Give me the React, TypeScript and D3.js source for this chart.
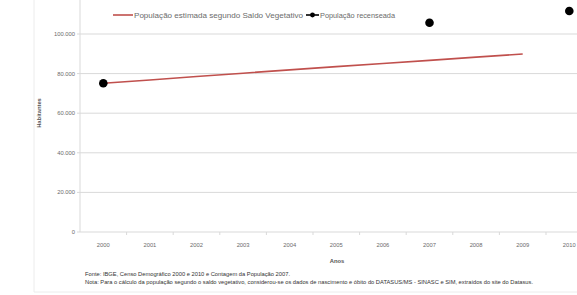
import React from "react";
import * as d3 from "d3";

const years = ["2000", "2001", "2002", "2003", "2004", "2005", "2006", "2007", "2008", "2009", "2010"];
const estimatedYears = ["2000", "2001", "2002", "2003", "2004", "2005", "2006", "2007", "2008", "2009"];
const estimated = [75100, 76800, 78500, 80200, 81900, 83500, 85100, 86700, 88300, 89900];
const censusYears = ["2000", "2007", "2010"];
const census = [75100, 105700, 111600];
const yTicks = [0, 20000, 40000, 60000, 80000, 100000];

const legendLabels = ["População estimada segundo Saldo Vegetativo", "População recenseada"];
const sourceNote = "Fonte: IBGE, Censo Demográfico 2000 e 2010 e Contagem da População 2007.";
const methodNote =
  "Nota: Para o cálculo da população segundo o saldo vegetativo, considerou-se os dados de nascimento e óbito do DATASUS/MS - SINASC e SIM, extraídos do site do Datasus.";

const W = 577;
const H = 295;
const font = "'Liberation Sans', Arial, sans-serif";
const red = "#c0504d";
const grid = "#d9d9d9";
const txt = "#6b6b6b";

const ptBr = d3.formatLocale({ decimal: ",", thousands: ".", grouping: [3], currency: ["R$", ""] });
const fmt = ptBr.format(",.0f");

export default function App() {
  const x = d3.scalePoint<string>().domain(years).range([80, 592.6]).padding(0.5);
  const y = d3.scaleLinear().domain([0, 120000]).range([232, -5.6]);

  const line = d3
    .line<number>()
    .x((_, i) => x(estimatedYears[i]) as number)
    .y((d) => y(d));

  return (
    <svg
      width={W}
      height={H}
      style={{ position: "absolute", left: 0, top: 0, background: "#fff" }}
      fontFamily={font}
    >
      {/* faint chart frame */}
      <line x1={34} x2={34} y1={0} y2={292} stroke="#ececec" />
      <line x1={34} x2={W} y1={292} y2={292} stroke="#ececec" />

      {/* gridlines + y ticks */}
      {yTicks.map((t) => (
        <g key={t}>
          <line x1={77} x2={W} y1={y(t)} y2={y(t)} stroke={grid} strokeWidth={1} />
          <text x={75} y={y(t)} dy="0.35em" textAnchor="end" fontSize={5.8} fill={txt}>
            {fmt(t)}
          </text>
        </g>
      ))}
      <line x1={80} x2={80} y1={0} y2={232} stroke={grid} />

      {/* x ticks */}
      {years.map((yr) => (
        <g key={yr}>
          <line
            x1={(x(yr) as number) + x.step() / 2}
            x2={(x(yr) as number) + x.step() / 2}
            y1={232}
            y2={235}
            stroke={grid}
          />
          <text x={x(yr)} y={247} textAnchor="middle" fontSize={5.8} fill={txt}>
            {yr}
          </text>
        </g>
      ))}

      {/* axis titles */}
      <text
        transform={`translate(41,113) rotate(-90)`}
        textAnchor="middle"
        fontSize={5.8}
        fontWeight="bold"
        fill="#555"
      >
        Habitantes
      </text>
      <text x={337} y={263} textAnchor="middle" fontSize={5.8} fontWeight="bold" fill="#555">
        Anos
      </text>

      {/* estimated series */}
      <path d={line(estimated) ?? ""} fill="none" stroke={red} strokeWidth={1.6} />

      {/* census points */}
      {census.map((v, i) => (
        <circle key={censusYears[i]} cx={x(censusYears[i])} cy={y(v)} r={4.3} fill="#000" />
      ))}

      {/* legend */}
      <line x1={113} x2={133} y1={15} y2={15} stroke={red} strokeWidth={1.6} />
      <text x={134} y={15} dy="0.35em" fontSize={7.2} fill={txt} textLength={169} lengthAdjust="spacingAndGlyphs">
        {legendLabels[0]}
      </text>
      <line x1={306} x2={319} y1={15} y2={15} stroke="#000" strokeWidth={1.6} />
      <circle cx={312.5} cy={15} r={2.4} fill="#000" />
      <text x={320} y={15} dy="0.35em" fontSize={7.2} fill={txt} textLength={75} lengthAdjust="spacingAndGlyphs">
        {legendLabels[1]}
      </text>

      {/* notes */}
      <text x={85} y={276} fontSize={5.2} fill="#333" textLength={205} lengthAdjust="spacingAndGlyphs">
        {sourceNote}
      </text>
      <text x={85} y={284} fontSize={5.2} fill="#333" textLength={448} lengthAdjust="spacingAndGlyphs">
        {methodNote}
      </text>
    </svg>
  );
}
